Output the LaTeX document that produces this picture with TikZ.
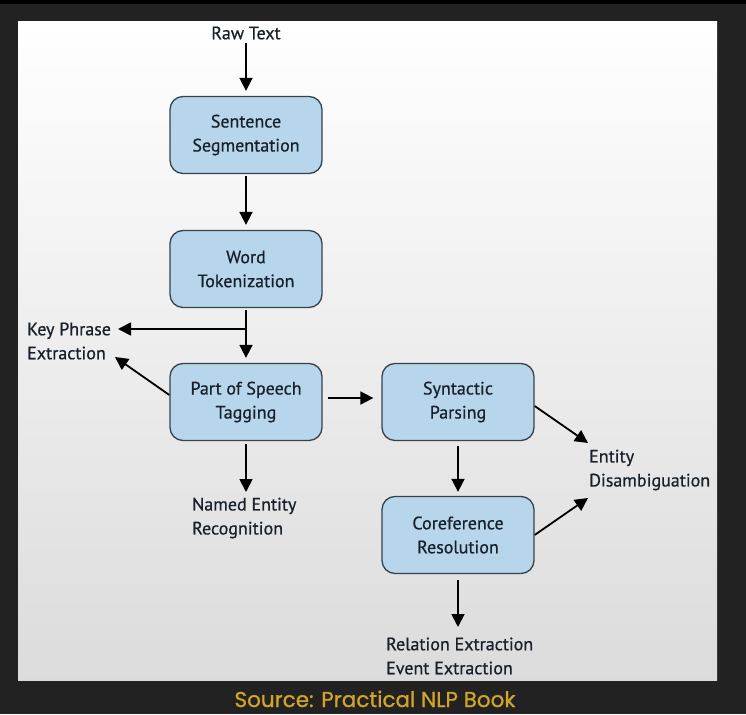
\documentclass[tikz,border=0pt]{standalone}
\usepackage{fontspec}
\setmainfont{PT Sans}[FakeBold=0.6]
\newfontfamily\srcfont{Poppins}[FakeBold=0.8]
\usetikzlibrary{arrows.meta,shapes.misc}
\definecolor{bgdark}{HTML}{222222}
\definecolor{boxfill}{HTML}{B7D5EB}
\definecolor{boxline}{HTML}{36434D}
\definecolor{txt}{HTML}{18212B}
\definecolor{gold}{HTML}{D2A42A}
\tikzset{
  stage/.style={draw=boxline, line width=1.3pt, fill=boxfill, rounded corners=13pt,
    minimum width=152pt, minimum height=77pt, align=center, text=txt,
    font=\fontsize{18}{24}\selectfont},
  lbl/.style={inner sep=0pt, align=left, text=txt, font=\fontsize{18}{24}\selectfont},
  arr/.style={line width=1.8pt, draw=black, -{Triangle[length=13pt,width=13pt]}},
}
\begin{document}
\begin{tikzpicture}[x=1pt,y=-1pt]
\useasboundingbox (0,0) rectangle (746,714);
\fill[black] (0,0) rectangle (746,714);
\fill[bgdark] (0,4) rectangle (746,714);
\shade[top color=white, middle color=white!95!black, bottom color=white!86!black] (18,22) rectangle (717,680);

\node[stage] (ss) at (246,135) {Sentence\\Segmentation};
\node[stage] (wt) at (246,269) {Word\\Tokenization};
\node[stage] (pos) at (246,402) {Part of Speech\\Tagging};
\node[stage] (sp) at (458,402) {Syntactic\\Parsing};
\node[stage] (cr) at (458,535) {Coreference\\Resolution};

\node[lbl] (raw) at (246,33) {Raw Text};
\node[lbl, anchor=west] (kp) at (27,341) {Key Phrase\\Extraction};
\node[lbl, anchor=west] (ner) at (192,518) {Named Entity\\Recognition};
\node[lbl, anchor=west] (ed) at (589,470) {Entity\\Disambiguation};
\node[lbl, anchor=west] (rel) at (386,656) {Relation Extraction\\Event Extraction};

\node[text=gold, inner sep=0pt, text depth=0pt, anchor=base, font=\srcfont\fontsize{21.5}{24}\selectfont] (src) at (375,707) {Source: Practical NLP Book};

\coordinate (br) at (246,329);
\coordinate (kptop) at (118,329);
\coordinate (kpdiag) at (115,357);
\coordinate (edtop) at (588,443);
\coordinate (edbot) at (588,498);

\draw[arr, shorten <=3pt, shorten >=5pt] (raw.south) -- (ss.north);
\draw[arr, shorten <=2pt, shorten >=5pt] (ss.south) -- (wt.north);
\draw[arr, shorten <=2pt, shorten >=5pt] (wt.south) -- (pos.north);
\draw[arr] (br) -- (kptop);
\draw[arr] ([yshift=7pt]pos.west) -- (kpdiag);
\draw[arr, shorten <=5pt, shorten >=8pt] ([yshift=4pt]pos.east) -- ([yshift=4pt]sp.west);
\draw[arr, shorten <=3pt] (pos.south) -- (246,492);
\draw[arr, shorten <=5pt, shorten >=4pt] (sp.south) -- (cr.north);
\draw[arr] ([yshift=-4pt]sp.east) -- (edtop);
\draw[arr] (cr.east) -- (edbot);
\draw[arr, shorten <=6pt] (cr.south) -- (458,627);
\end{tikzpicture}
\end{document}
